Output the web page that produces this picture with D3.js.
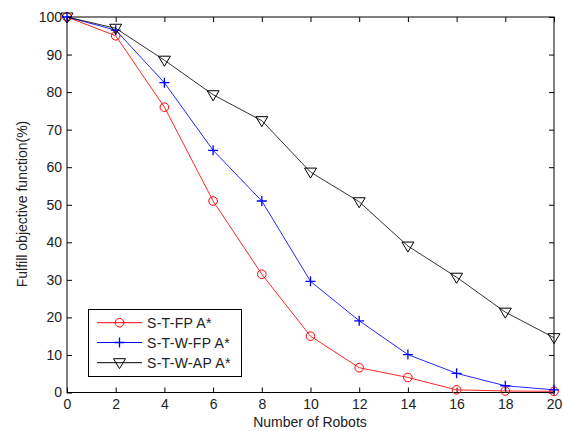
<!DOCTYPE html>
<html><head><meta charset="utf-8">
<script src="https://cdn.jsdelivr.net/npm/d3@7"></script>
<style>body{margin:0;background:#fff}svg{display:block}text{font-family:"Liberation Sans",Arial,sans-serif}</style>
</head><body>
<svg id="c" width="564" height="431"></svg>
<script>
const robots = [0,2,4,6,8,10,12,14,16,18,20];
const stfp   = [100,95,76,51,31.5,15,6.6,4,0.7,0.4,0.3];
const stwfp  = [100,96.5,82.5,64.5,51,29.6,19.1,10.1,5.1,1.8,0.7];
const stwap  = [100,97,88.5,79.3,72.4,58.7,50.8,39,30.7,21.4,14.6];
const seriesNames = ["S-T-FP A*","S-T-W-FP A*","S-T-W-AP A*"];
const xTicks = [0,2,4,6,8,10,12,14,16,18,20];
const yTicks = [0,10,20,30,40,50,60,70,80,90,100];

const svg = d3.select("#c");
const L=67,R=554,T=17,B=392.5;
const x = d3.scaleLinear().domain([0,20]).range([L,R]);
const y = d3.scaleLinear().domain([0,100]).range([B,T]);

svg.append("rect").attr("x",L).attr("y",T).attr("width",R-L).attr("height",B-T).attr("fill","#fff");

const fs = 14, tc="#222";
const gx = svg.append("g").attr("transform",`translate(0,${B})`)
  .call(d3.axisBottom(x).tickValues(xTicks).tickSize(-5).tickPadding(7).tickFormat(d3.format("d")));
const gxt = svg.append("g").attr("transform",`translate(0,${T})`)
  .call(d3.axisTop(x).tickValues(xTicks).tickSize(-5).tickFormat(""));
const gy = svg.append("g").attr("transform",`translate(${L},0)`)
  .call(d3.axisLeft(y).tickValues(yTicks).tickSize(-5).tickPadding(5).tickFormat(d3.format("d")));
const gyr = svg.append("g").attr("transform",`translate(${R},0)`)
  .call(d3.axisRight(y).tickValues(yTicks).tickSize(-5).tickFormat(""));
[gx,gxt,gy,gyr].forEach(g=>{
  g.select(".domain").remove();
  g.selectAll("line").attr("stroke","#000");
  g.selectAll("text").attr("font-size",fs).attr("fill",tc).attr("font-family","Liberation Sans, Arial, sans-serif");
});
svg.append("rect").attr("x",L).attr("y",T).attr("width",R-L).attr("height",B-T)
  .attr("fill","none").attr("stroke","#000").attr("stroke-width",1);

const line = d3.line().x((d,i)=>x(robots[i])).y(d=>y(d));
const colors = ["#ff0000","#0000ff","#000000"];
const data = [stfp,stwfp,stwap];

function marker(g,type,cx,cy,col){
  if(type===0){
    g.append("circle").attr("cx",cx).attr("cy",cy).attr("r",4.3).attr("fill","none").attr("stroke",col);
  } else if(type===1){
    g.append("path").attr("d",`M${cx-5},${cy}H${cx+5}M${cx},${cy-5}V${cy+5}`).attr("stroke",col).attr("stroke-width",1.3).attr("fill","none");
  } else {
    g.append("path").attr("d",`M${cx-6},${cy-4}L${cx+6},${cy-4}L${cx},${cy+6}Z`).attr("stroke",col).attr("fill","none");
  }
}

data.forEach((s,k)=>{
  svg.append("path").datum(s).attr("d",line).attr("fill","none").attr("stroke",colors[k]).attr("stroke-width",1).attr("opacity",k===2?0.8:0.85);
  const g = svg.append("g");
  s.forEach((v,i)=>marker(g,k,x(robots[i]),y(v),colors[k]));
});

const lg = svg.append("g");
lg.append("rect").attr("x",88.5).attr("y",309.5).attr("width",153).attr("height",67).attr("fill","#fff").attr("stroke","#000");
const rows=[322.7,342.5,362.7];
seriesNames.forEach((n,k)=>{
  lg.append("line").attr("x1",97).attr("x2",142).attr("y1",rows[k]).attr("y2",rows[k]).attr("stroke",colors[k]);
  marker(lg,k,119.5,rows[k],colors[k]);
  lg.append("text").attr("x",147).attr("y",rows[k]+5).attr("font-size",fs).attr("letter-spacing",0.3).attr("fill",tc).text(n);
});

svg.append("text").attr("x",310).attr("y",427).attr("text-anchor","middle").attr("font-size",fs).attr("fill",tc).text("Number of Robots");
svg.append("text").attr("transform","translate(27,204) rotate(-90)").attr("text-anchor","middle").attr("font-size",fs).attr("fill",tc).text("Fulfill objective function(%)");
</script>
</body></html>
